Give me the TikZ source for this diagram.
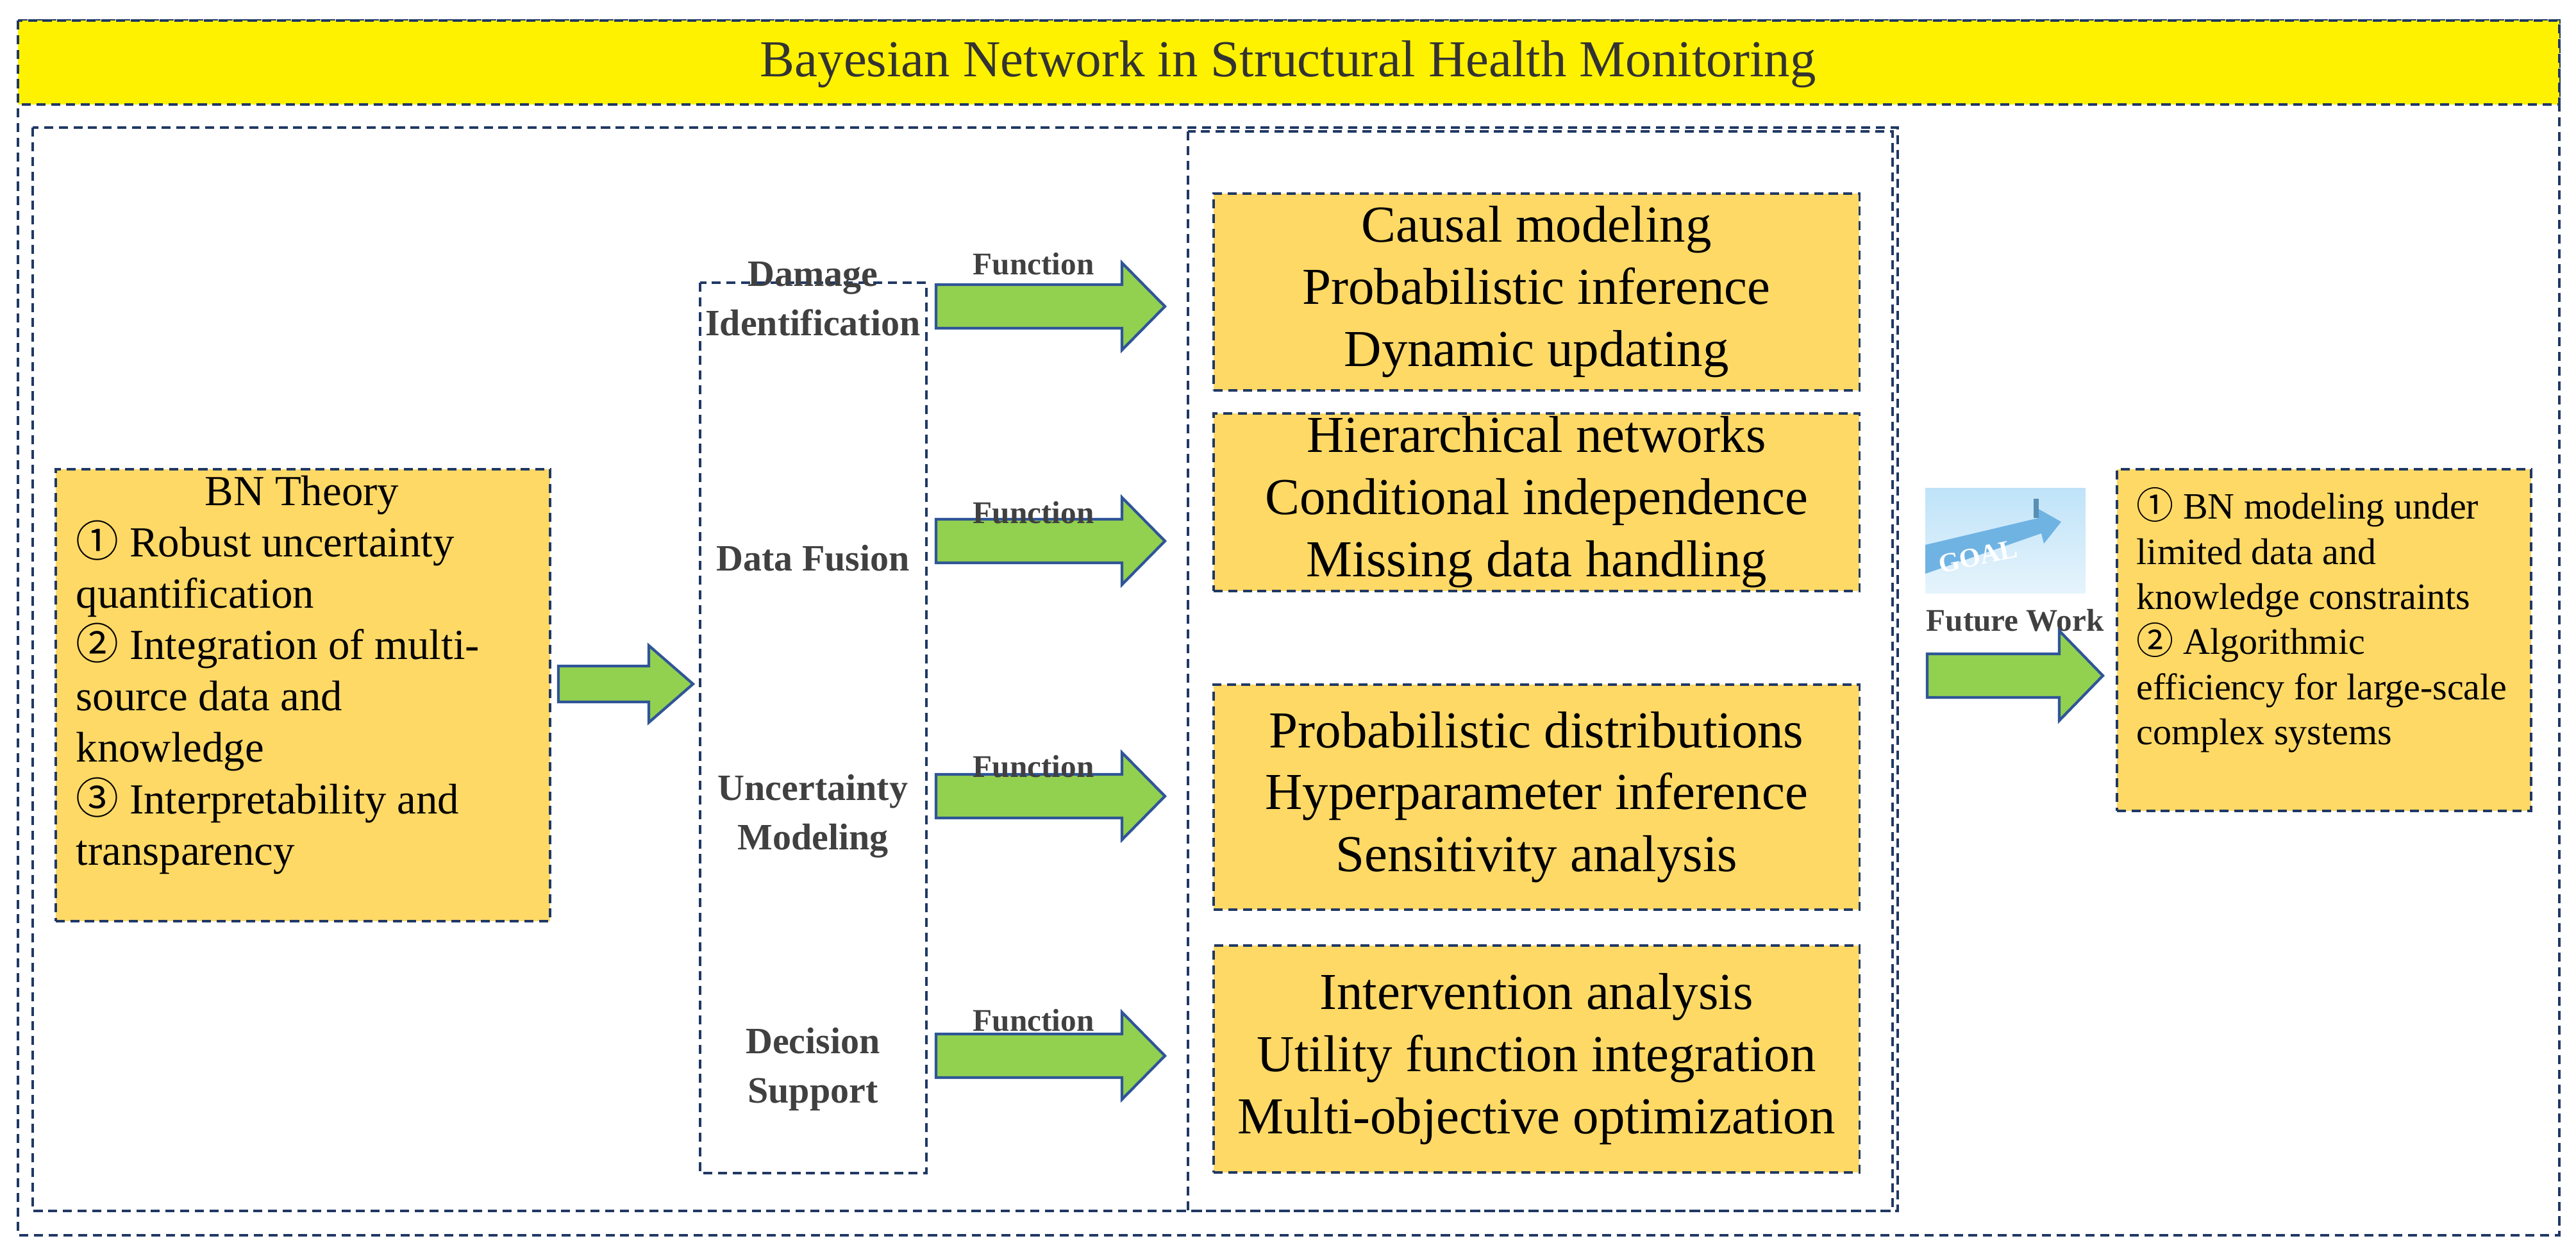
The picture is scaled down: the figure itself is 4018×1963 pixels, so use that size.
\documentclass[tikz,border=0pt]{standalone}
\usepackage{fontspec}
\setmainfont{Liberation Serif}
\newfontfamily\cjkfont{Noto Sans CJK SC}
\newcommand\cn[1]{{\cjkfont #1}}
\definecolor{navy}{HTML}{203864}
\definecolor{boxfill}{HTML}{FFD966}
\definecolor{arrowgreen}{HTML}{92D050}
\definecolor{arrowblue}{HTML}{2F5597}
\definecolor{labelgray}{HTML}{404040}
\definecolor{skyblue}{HTML}{BFE3F8}
\definecolor{goalblue}{HTML}{6FB3E3}
\newcommand\fatarrow[6]{% x1, x2, headstart, yc, shafthalf, headhalf
  \filldraw[fatarrow] (#1,#4-#5) -- (#3,#4-#5) -- (#3,#4-#6) -- (#2,#4) -- (#3,#4+#6) -- (#3,#4+#5) -- (#1,#4+#5) -- cycle;}
\begin{document}
\begin{tikzpicture}[x=0.01cm,y=-0.01cm,
  dbox/.style={draw=navy, line width=1pt, dash pattern=on 4pt off 2.5pt},
  obox/.style={dbox, fill=boxfill, inner sep=0pt, anchor=north west},
  fatarrow/.style={fill=arrowgreen, draw=arrowblue, line width=1.2pt, line join=miter},
  ftext/.style={align=center, font=\fontsize{23}{27.5}\selectfont},
  flabel/.style={font=\fontsize{14}{16}\selectfont\bfseries, text=labelgray},
  mlabel/.style={align=center, font=\fontsize{16.5}{22}\selectfont\bfseries, text=labelgray}]
\useasboundingbox (0,0) rectangle (4018,1963);
% frames
\draw[dbox] (28,32) rectangle (3992,1927);
\draw[dbox, fill=yellow] (28,32) rectangle (3992,163);
\node[font=\fontsize{23}{27}\selectfont, text=black!80] (title) at (2009,100) {Bayesian Network in Structural Health Monitoring};
\draw[dbox] (51,199) rectangle (2960,1889);
\draw[dbox] (1853,205) rectangle (2952,1889);
\draw[dbox] (1092,441) rectangle (1445,1830);
% BN theory box
\node[obox, minimum width=7.71cm, minimum height=7.05cm] (bn) at (85,730) {};
\node[anchor=north west, inner sep=0pt, align=left, font=\fontsize{19}{22.8}\selectfont] (bntext) at (118,741)
 {\makebox[7.04cm]{BN Theory}\\
  \cn{①} Robust uncertainty\\
  quantification\\
  \cn{②} Integration of multi-\\
  source data and\\
  knowledge\\
  \cn{③} Interpretability and\\
  transparency};
\fatarrow{871}{1081}{1012}{1067}{28}{60}
% middle labels
\node[mlabel] (m1) at (1268,466) {Damage\\Identification};
\node[mlabel] (m2) at (1268,871) {Data Fusion};
\node[mlabel] (m3) at (1268,1273) {Uncertainty\\Modeling};
\node[mlabel] (m4) at (1268,1668) {Decision\\Support};
% function arrows
\fatarrow{1460}{1817}{1750}{478}{34}{68}
\fatarrow{1460}{1817}{1750}{844}{34}{68}
\fatarrow{1460}{1817}{1750}{1242}{34}{68}
\fatarrow{1460}{1817}{1750}{1647}{34}{68}
\node[flabel] (f1) at (1612,412) {Function};
\node[flabel] (f2) at (1612,800) {Function};
\node[flabel] (f3) at (1612,1196) {Function};
\node[flabel] (f4) at (1612,1592) {Function};
% function boxes
\node[obox, minimum width=10.07cm, minimum height=3.07cm] (b1) at (1891,300) {};
\node[ftext] (t1) at (b1.center) {Causal modeling\\Probabilistic inference\\Dynamic updating};
\node[obox, minimum width=10.07cm, minimum height=2.77cm] (b2) at (1891,643) {};
\node[ftext] (t2) at (b2.center) {Hierarchical networks\\Conditional independence\\Missing data handling};
\node[obox, minimum width=10.07cm, minimum height=3.51cm] (b3) at (1891,1066) {};
\node[ftext] (t3) at (b3.center) {Probabilistic distributions\\Hyperparameter inference\\Sensitivity analysis};
\node[obox, minimum width=10.07cm, minimum height=3.54cm] (b4) at (1891,1473) {};
\node[ftext] (t4) at (b4.center) {Intervention analysis\\Utility function integration\\Multi-objective optimization};
% goal picture
\shade[top color=skyblue, bottom color=skyblue!40!white] (3003,761) rectangle (3253,925);
\fill[goalblue] (3003,850) -- (3180,808) -- (3176,792) -- (3215,814) -- (3188,848) -- (3184,832) -- (3003,895) -- cycle;
\fill[goalblue!80!black] (3172,778) rectangle (3180,808);
\node[rotate=12, text=white, font=\fontsize{12}{12}\selectfont\bfseries] (goal) at (3085,868) {GOAL};
\node[flabel] (fw) at (3143,968) {Future Work};
\fatarrow{3006}{3280}{3212}{1054}{34}{70}
% right box
\node[obox, minimum width=6.46cm, minimum height=5.33cm] (fut) at (3300,730) {};
\node[anchor=north west, inner sep=0pt, align=left, font=\fontsize{16.5}{20}\selectfont] (futtext) at (3332,760)
 {\cn{①} BN modeling under\\
  limited data and\\
  knowledge constraints\\
  \cn{②} Algorithmic\\
  efficiency for large-scale\\
  complex systems};
\end{tikzpicture}
\end{document}
